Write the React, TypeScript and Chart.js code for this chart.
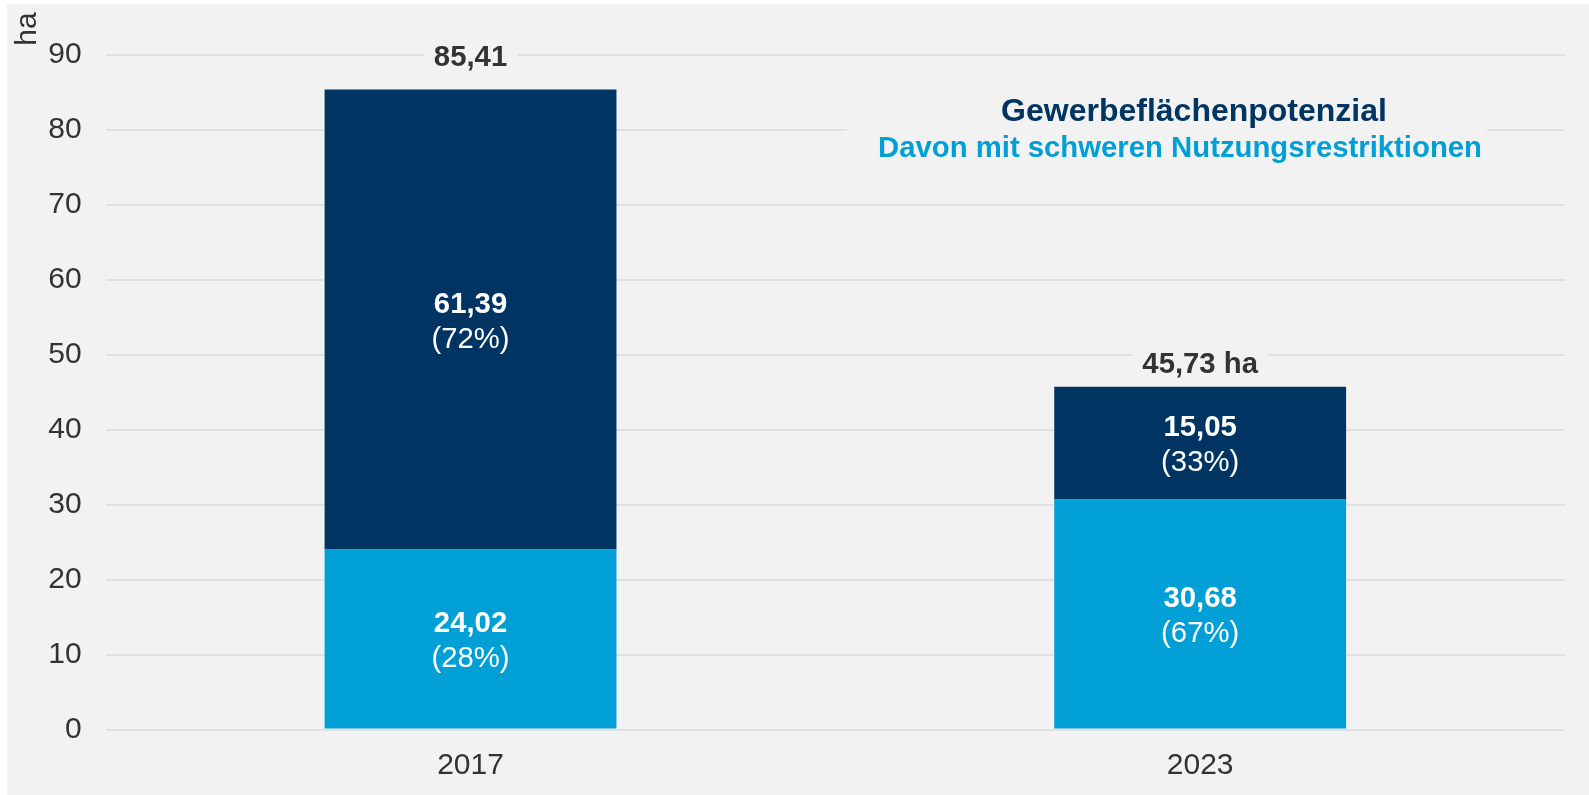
import React, { useEffect, useRef } from "react";
import { Chart, registerables } from "chart.js";

Chart.register(...registerables);

const categories = ["2017", "2023"];
const restrictedValues = [24.02, 30.68];
const otherValues = [61.39, 15.05];
const restrictedPct = [28, 67];
const otherPct = [72, 33];
const totals = [85.41, 45.73];
const totalSuffix = ["", " ha"];
const yTicks = [0, 10, 20, 30, 40, 50, 60, 70, 80, 90];
const legendTitle = "Gewerbeflächenpotenzial";
const legendSub = "Davon mit schweren Nutzungsrestriktionen";
const unitLabel = "ha";

const NAVY = "#003462";
const LIGHT = "#009FD6";
const BG = "#f2f2f2";
const FONT = "'Liberation Sans', Arial, sans-serif";
const FS = 29.3;
const TICK_FS = 30;

const fmt = (v: number) => v.toFixed(2).replace(".", ",");

const labelPlugin = {
  id: "customLabels",
  afterDraw(chart: any) {
    const ctx = chart.ctx;
    const xs = chart.scales.x;
    const ys = chart.scales.y;
    ctx.save();
    ctx.textAlign = "center";
    ctx.textBaseline = "middle";
    const pcts = [restrictedPct, otherPct];
    chart.data.datasets.forEach((_: any, di: number) => {
      const meta = chart.getDatasetMeta(di);
      meta.data.forEach((bar: any, j: number) => {
        const mid = (bar.y + bar.base) / 2 + 2.5;
        const val = chart.data.datasets[di].data[j];
        ctx.fillStyle = "#ffffff";
        ctx.font = `bold ${FS}px ${FONT}`;
        ctx.fillText(fmt(val), bar.x, mid - 17.5);
        ctx.font = `${FS}px ${FONT}`;
        ctx.fillText(`(${pcts[di][j]}%)`, bar.x, mid + 17.5);
      });
    });
    const offsets = [31, 22];
    totals.forEach((t, j) => {
      const cx = xs.getPixelForValue(j);
      const cy = ys.getPixelForValue(t) - offsets[j];
      const text = fmt(t) + totalSuffix[j];
      ctx.font = `bold ${FS}px ${FONT}`;
      const w = ctx.measureText(text).width;
      ctx.fillStyle = BG;
      ctx.fillRect(cx - w / 2 - 10, cy - 18, w + 20, 36);
      ctx.fillStyle = "#333333";
      ctx.fillText(text, cx, cy);
    });
    // legend
    ctx.fillStyle = BG;
    ctx.fillRect(840, 88, 640, 76);
    ctx.font = `bold 32px ${FONT}`;
    ctx.fillStyle = NAVY;
    ctx.fillText(legendTitle, 1187, 108);
    ctx.font = `bold ${FS}px ${FONT}`;
    ctx.fillStyle = LIGHT;
    ctx.fillText(legendSub, 1173, 145);
    // unit
    ctx.save();
    ctx.translate(21, 25);
    ctx.rotate(-Math.PI / 2);
    ctx.font = `${TICK_FS}px ${FONT}`;
    ctx.fillStyle = "#333333";
    ctx.fillText(unitLabel, 0, 0);
    ctx.restore();
    ctx.restore();
  },
};

export default function App() {
  const ref = useRef<HTMLCanvasElement>(null);
  useEffect(() => {
    if (!ref.current) return;
    const chart = new Chart(ref.current, {
      type: "bar",
      data: {
        labels: categories,
        datasets: [
          {
            label: legendSub,
            data: restrictedValues,
            backgroundColor: LIGHT,
            barPercentage: 0.4,
            categoryPercentage: 1,
            borderWidth: 0,
          },
          {
            label: legendTitle,
            data: otherValues,
            backgroundColor: NAVY,
            barPercentage: 0.4,
            categoryPercentage: 1,
            borderWidth: 0,
          },
        ],
      },
      options: {
        responsive: false,
        animation: false,
        layout: { padding: { left: 0, top: 51, right: 24, bottom: 0 } },
        plugins: { legend: { display: false }, tooltip: { enabled: false } },
        scales: {
          x: {
            stacked: true,
            grid: { display: false },
            border: { display: false },
            ticks: {
              padding: 10,
              color: "#333333",
              font: { family: FONT, size: TICK_FS },
            },
            afterFit: (s: any) => {
              s.height = 65.5;
            },
          },
          y: {
            stacked: true,
            min: 0,
            max: 90,
            afterBuildTicks: (s: any) => {
              s.ticks = yTicks.map((v) => ({ value: v }));
            },
            grid: { color: "#e0e0e0", lineWidth: 2, drawTicks: false },
            border: { display: false },
            ticks: {
              padding: 24,
              color: "#333333",
              font: { family: FONT, size: TICK_FS },
            },
            afterFit: (s: any) => {
              s.width = 98.7;
            },
          },
        },
      },
      plugins: [labelPlugin],
    });
    return () => chart.destroy();
  }, []);
  return (
    <div
      style={{
        position: "absolute",
        left: 7,
        top: 4,
        width: 1582,
        height: 791,
        background: BG,
      }}
    >
      <canvas ref={ref} width={1582} height={791} />
    </div>
  );
}
